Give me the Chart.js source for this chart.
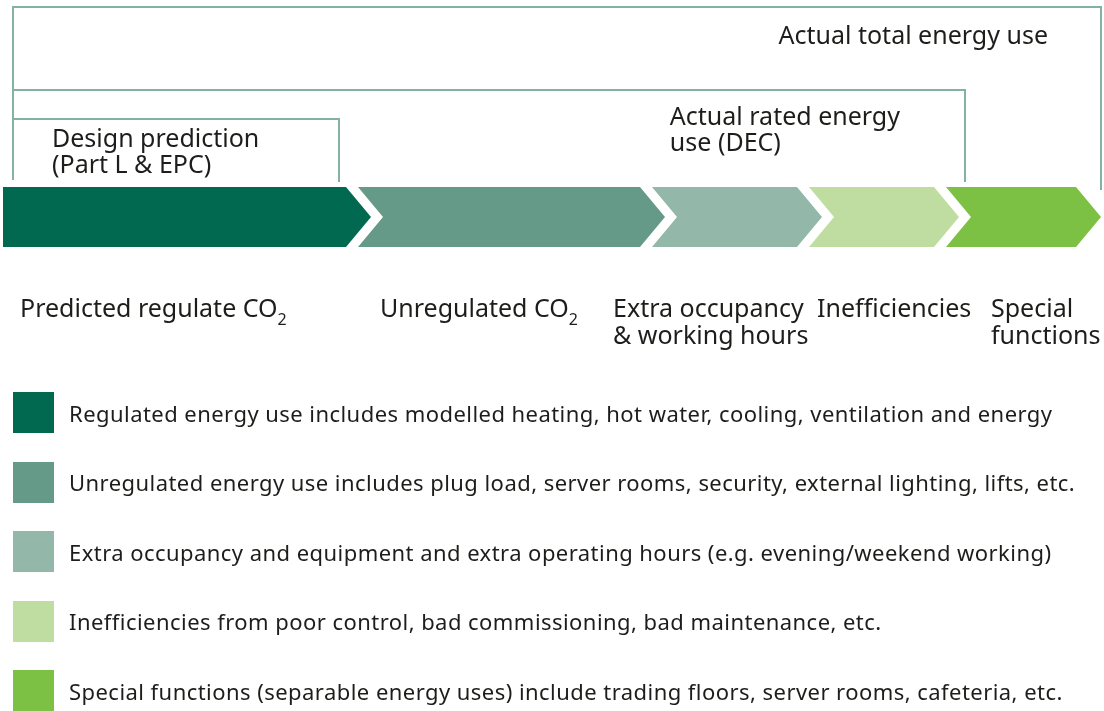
<!DOCTYPE html>
<html>
<head>
<meta charset="utf-8">
<script src="https://cdn.jsdelivr.net/npm/chart.js@4.4.0/dist/chart.umd.min.js"></script>
<style>
  html, body { margin: 0; padding: 0; background: #fff; }
  #wrap { position: relative; width: 1104px; height: 711px; overflow: hidden; }
  #energyChart { position: absolute; left: 0; top: 0; }
  #legend {
    position: absolute; left: 13px; top: 392px; margin: 0; padding: 0; list-style: none;
    font-family: "Noto Sans", sans-serif; font-size: 22px; letter-spacing: 0.45px; color: #1d1d1b;
  }
  #legend li { display: flex; align-items: center; height: 41px; margin-bottom: 28.5px; white-space: nowrap; }
  #legend .box { width: 41px; height: 41px; margin-right: 15px; flex: none; }
</style>
</head>
<body>
<div id="wrap">
  <canvas id="energyChart" width="1104" height="711"></canvas>
  <ul id="legend"></ul>
</div>
<script>
// arrow segments, left to right (sizes in axis units)
const segmentSizes = [368, 294, 157, 137, 142];
const segmentColors = ['#00694f', '#669a88', '#93b7a9', '#bfdda0', '#7cc144'];
const segmentLabels = [
    ['Predicted regulate CO₂'],
    ['Unregulated CO₂'],
    ['Extra occupancy', '& working hours'],
    ['Inefficiencies'],
    ['Special', 'functions']
];
const legendTexts = [
    'Regulated energy use includes modelled heating, hot water, cooling, ventilation and energy',
    'Unregulated energy use includes plug load, server rooms, security, external lighting, lifts, etc.',
    'Extra occupancy and equipment and extra operating hours (e.g. evening/weekend working)',
    'Inefficiencies from poor control, bad commissioning, bad maintenance, etc.',
    'Special functions (separable energy uses) include trading floors, server rooms, cafeteria, etc.'
];

// brackets above the arrow (start / end in axis units)
const bracketStart = 10;
const bracketEnds = [336, 962, 1098];
const bracketLabels = [
    ['Design prediction', '(Part L & EPC)'],
    ['Actual rated energy', 'use (DEC)'],
    ['Actual total energy use']
];

// layout bits (pixels)
const TIP = 25, GAP = 12;
const bracketRise = [68, 97, 180];      // top of bracket above the arrow
const bracketDrop = [5, 5, -3];         // where right leg stops, relative to arrow top
const bracketText = [
    { align: 'left', dx: 39, dy: 28 },
    { align: 'right', dx: -65, dy: 35 },
    { align: 'right', dx: -53, dy: 37 }
];
const labelDx = [17, 9, -52, -5, 32];
const labelBase = 70, lineGap = 27;
const FONT = '"Noto Sans", sans-serif';
const FONT_SIZE = 25;
const TEXT = '#1d1d1b';
const LINE = '#84b2a2';

function richWidth(ctx, text, size) {
    const parts = text.split('₂');
    const subSize = Math.round(size * 0.62);
    let width = 0;
    parts.forEach((p, k) => {
        ctx.font = `${size}px ${FONT}`;
        width += ctx.measureText(p).width;
        if (k < parts.length - 1) {
            ctx.font = `${subSize}px ${FONT}`;
            width += ctx.measureText('2').width;
        }
    });
    return width;
}

function drawRich(ctx, text, x, y, size) {
    const parts = text.split('₂');
    const subSize = Math.round(size * 0.62);
    let cx = x;
    ctx.textAlign = 'left';
    ctx.textBaseline = 'alphabetic';
    parts.forEach((p, k) => {
        ctx.font = `${size}px ${FONT}`;
        ctx.fillText(p, cx, y);
        cx += ctx.measureText(p).width;
        if (k < parts.length - 1) {
            ctx.font = `${subSize}px ${FONT}`;
            ctx.fillText('2', cx, y + 8);
            cx += ctx.measureText('2').width;
        }
    });
}

const chevronPlugin = {
    id: 'chevrons',
    beforeDatasetDraw(chart, args) {
        const i = args.index;
        const bar = args.meta.data[0];
        const { x, y, base, height } = bar.getProps(['x', 'y', 'base', 'height'], true);
        const left = i === 0 ? base : base - TIP + GAP;
        const top = y - height / 2, bottom = y + height / 2;
        const ctx = chart.ctx;
        ctx.save();
        ctx.fillStyle = chart.data.datasets[i].backgroundColor;
        ctx.beginPath();
        ctx.moveTo(left, top);
        ctx.lineTo(x - TIP, top);
        ctx.lineTo(x, y);
        ctx.lineTo(x - TIP, bottom);
        ctx.lineTo(left, bottom);
        if (i > 0) ctx.lineTo(left + TIP, y);
        ctx.closePath();
        ctx.fill();
        ctx.restore();
        return false;
    }
};

const annotationPlugin = {
    id: 'brackets',
    afterDraw(chart) {
        const ctx = chart.ctx;
        const xs = chart.scales.x;
        const area = chart.chartArea;
        ctx.save();
        ctx.strokeStyle = LINE;
        ctx.lineWidth = 2;
        const x0 = xs.getPixelForValue(bracketStart);
        bracketEnds.forEach((end, k) => {
            const x1 = xs.getPixelForValue(end);
            const yTop = area.top - bracketRise[k];
            ctx.beginPath();
            ctx.moveTo(x0, area.top - 7);
            ctx.lineTo(x0, yTop);
            ctx.lineTo(x1, yTop);
            ctx.lineTo(x1, area.top - bracketDrop[k]);
            ctx.stroke();

            // label block: left-aligned lines, anchored left or right
            ctx.fillStyle = TEXT;
            const t = bracketText[k];
            const blockW = Math.max(...bracketLabels[k].map(l => richWidth(ctx, l, FONT_SIZE)));
            const tx = t.align === 'left' ? x0 + t.dx : x1 + t.dx - blockW;
            bracketLabels[k].forEach((line, j) => {
                drawRich(ctx, line, tx, yTop + t.dy + j * 25.5, FONT_SIZE);
            });
        });

        // category labels under the arrow
        ctx.fillStyle = TEXT;
        chart.getSortedVisibleDatasetMetas().forEach((meta, i) => {
            const base = meta.data[0].getProps(['base'], true).base;
            segmentLabels[i].forEach((line, j) => {
                drawRich(ctx, line, base + labelDx[i], area.bottom + labelBase + j * lineGap, FONT_SIZE);
            });
        });
        ctx.restore();
    }
};

const htmlLegendPlugin = {
    id: 'htmlLegend',
    afterUpdate(chart) {
        const ul = document.getElementById('legend');
        ul.innerHTML = '';
        chart.data.datasets.forEach(ds => {
            const li = document.createElement('li');
            const box = document.createElement('span');
            box.className = 'box';
            box.style.background = ds.backgroundColor;
            const txt = document.createElement('span');
            txt.textContent = ds.label;
            li.appendChild(box);
            li.appendChild(txt);
            ul.appendChild(li);
        });
    }
};

const total = segmentSizes.reduce((a, b) => a + b, 0);

new Chart(document.getElementById('energyChart'), {
    type: 'bar',
    data: {
        labels: ['Energy use'],
        datasets: segmentSizes.map((v, i) => ({
            label: legendTexts[i],
            data: [v],
            backgroundColor: segmentColors[i],
            barPercentage: 1,
            categoryPercentage: 1
        }))
    },
    options: {
        indexAxis: 'y',
        responsive: false,
        animation: false,
        layout: { padding: { left: 3, right: 3, top: 187, bottom: 464 } },
        scales: {
            x: { type: 'linear', stacked: true, min: 0, max: total, display: false },
            y: { stacked: true, display: false }
        },
        plugins: {
            legend: { display: false },
            tooltip: { enabled: false }
        }
    },
    plugins: [chevronPlugin, annotationPlugin, htmlLegendPlugin]
});
</script>
</body>
</html>
